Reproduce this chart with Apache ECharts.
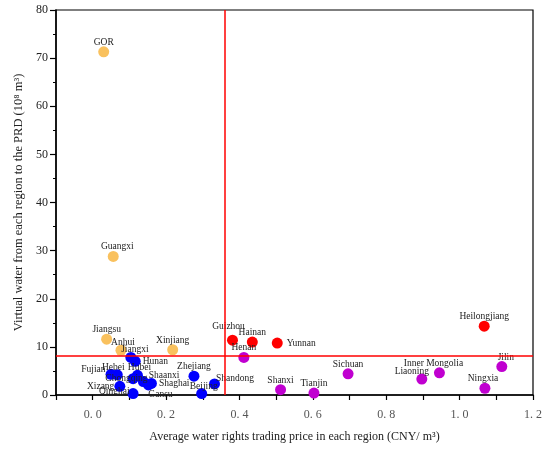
<!DOCTYPE html>
<html>
<head>
<meta charset="utf-8">
<script src="https://cdn.jsdelivr.net/npm/echarts@6/dist/echarts.min.js"></script>
<style>
  html, body { margin: 0; padding: 0; background: #fff; }
  #chart { width: 550px; height: 451px; }
</style>
</head>
<body>
<div id="chart"></div>
<script>
// 各组数据：[价格, 虚拟水, 地区]
var orangeData = [
    [0.030, 71.3, 'GOR'],
    [0.056, 28.8, 'Guangxi'],
    [0.038, 11.6, 'Jiangsu'],
    [0.077, 9.3, 'Anhui'],
    [0.218, 9.4, 'Xinjiang']
];
var redData = [
    [0.381, 11.4, 'Guizhou'],
    [0.435, 11.0, 'Hainan'],
    [0.503, 10.8, 'Yunnan'],
    [1.067, 14.3, 'Heilongjiang']
];
var purpleData = [
    [0.412, 7.8, 'Henan'],
    [0.512, 1.1, 'Shanxi'],
    [0.603, 0.4, 'Tianjin'],
    [0.696, 4.4, 'Sichuan'],
    [0.897, 3.3, 'Liaoning'],
    [0.945, 4.6, 'Inner Mongolia'],
    [1.115, 5.9, 'Jilin'],
    [1.069, 1.4, 'Ningxia']
];
var blueData = [
    [0.104, 7.8, 'Jiangxi'],
    [0.116, 7.0, 'Hunan'],
    [0.050, 4.3, 'Fujian'],
    [0.067, 4.2, 'Hebei'],
    [0.122, 4.1, 'Hubei'],
    [0.110, 3.4, 'Chongqing'],
    [0.138, 2.8, 'Shaanxi'],
    [0.160, 2.4, 'Shaghai'],
    [0.152, 2.1, 'Gansu'],
    [0.074, 1.8, 'Xizang'],
    [0.110, 0.3, 'Qinghai'],
    [0.276, 3.9, 'Zhejiang'],
    [0.332, 2.3, 'Shandong'],
    [0.297, 0.3, 'Beijing']
];
// 分界线
var priceSplit = 0.361;
var waterSplit = 8.1;

// 标签位置（样式）
var labelPos = {
    'Hunan': ['right', [0, 0]],
    'Fujian': ['left', [2, -5]],
    'Hebei': ['top', [-4, 2]],
    'Hubei': ['top', [2, 2]],
    'Chongqing': ['left', [22, 0]],
    'Shaanxi': ['right', [-2, -6]],
    'Shaghai': ['right', [0, 0]],
    'Gansu': ['bottom', [12, -3]],
    'Xizang': ['left', [2, 0]],
    'Qinghai': ['left', [4, -2]],
    'Shandong': ['right', [-6, -5]],
    'Beijing': ['top', [2, 2]],
    'Guizhou': ['top', [-4, -4]],
    'Yunnan': ['right', [2, 0]],
    'Liaoning': ['top', [-10, 2]],
    'Inner Mongolia': ['top', [-6, 0]],
    'Jilin': ['top', [4, 0]],
    'Ningxia': ['top', [-2, 0]],
    'Anhui': ['top', [2, 2]],
    'Jiangxi': ['top', [4, 2]],
    'Guangxi': ['top', [4, 0]]
};

var serif = '"Liberation Serif", "DejaVu Serif", serif';

function makeSeries(data, color) {
    return {
        type: 'scatter',
        symbolSize: 11,
        itemStyle: { color: color, opacity: 1 },
        data: data.map(function (d) {
            var p = labelPos[d[2]] || ['top', [0, 0]];
            var off = [p[1][0], p[1][1] + (p[0] === 'top' ? 3 : 0)];
            return {
                value: [d[0], d[1]],
                name: d[2],
                label: { position: p[0], offset: off }
            };
        }),
        label: {
            show: true,
            formatter: '{b}',
            color: '#222',
            fontFamily: serif,
            fontSize: 9.5,
            distance: 2
        },
        z: 3
    };
}

var myChart = echarts.init(document.getElementById('chart'));

var redLine = makeSeries(redData, '#FF0000');
redLine.markLine = {
    silent: true,
    symbol: 'none',
    label: { show: false },
    lineStyle: { color: '#FF0000', type: 'solid', width: 1.5 },
    data: [{ xAxis: priceSplit }, { yAxis: waterSplit }]
};

var option = {
    animation: false,
    grid: {
        left: 56,
        right: 17,
        top: 10,
        bottom: 56,
        show: true,
        borderColor: '#000',
        borderWidth: 1.2
    },
    xAxis: {
        type: 'value',
        min: -0.1,
        max: 1.2,
        interval: 0.1,
        name: 'Average water rights trading price in each region (CNY/ m³)',
        nameLocation: 'middle',
        nameGap: 36,
        nameTextStyle: { fontFamily: serif, fontSize: 12, color: '#222' },
        axisLine: { onZero: false, lineStyle: { color: '#000', width: 1.5 } },
        axisTick: { inside: false, length: 5, lineStyle: { color: '#000', width: 1.2 } },
        axisLabel: {
            fontFamily: serif,
            fontSize: 12,
            color: '#555',
            margin: 14,
            formatter: function (v) {
                var k = Math.round(v * 10);
                if (k < 0 || k % 2 !== 0) return '';
                return (k / 10).toFixed(1).replace('.', '. ');
            }
        },
        splitLine: { show: false }
    },
    yAxis: {
        type: 'value',
        min: 0,
        max: 80,
        interval: 10,
        name: 'Virtual water from each region to the PRD (10⁸ m³)',
        nameLocation: 'middle',
        nameGap: 31,
        nameTextStyle: { fontFamily: serif, fontSize: 12.5, color: '#222' },
        axisLine: { onZero: false, lineStyle: { color: '#000', width: 1.5 } },
        axisTick: { length: 6, lineStyle: { color: '#000', width: 1.2 } },
        minorTick: { show: true, splitNumber: 2, length: 3, lineStyle: { color: '#000', width: 1 } },
        axisLabel: { fontFamily: serif, fontSize: 12, color: '#222', margin: 8 },
        splitLine: { show: false }
    },
    series: [
        makeSeries(orangeData, '#F9C15E'),
        redLine,
        makeSeries(purpleData, '#C000D0'),
        makeSeries(blueData, '#0000FF')
    ]
};

myChart.setOption(option);
</script>
</body>
</html>
